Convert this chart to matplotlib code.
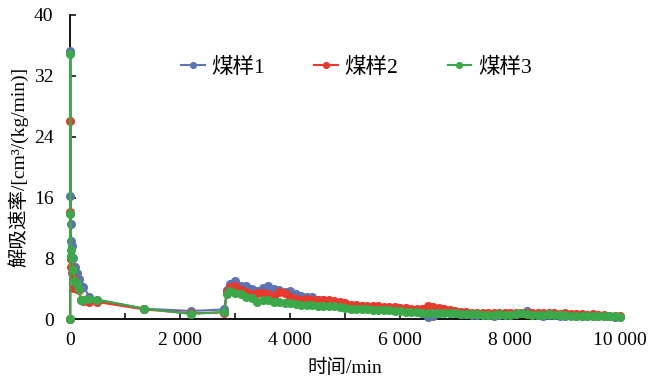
import matplotlib
matplotlib.use("Agg")
import matplotlib.pyplot as plt
from matplotlib.ticker import MultipleLocator, FuncFormatter

# time (min)
time = [0, 2, 5, 10, 20, 40, 60, 90, 120, 160, 200, 240, 350, 480, 1350, 2200, 2800, 2850,
        2900, 3000, 3100, 3200, 3300, 3400, 3500, 3600, 3700, 3800, 3900, 4000,
        4100, 4200, 4300, 4400, 4500, 4600, 4700, 4800, 4900, 5000,
        5100, 5200, 5300, 5400, 5500, 5600, 5700, 5800, 5900, 6000,
        6100, 6200, 6300, 6400, 6500, 6600, 6700, 6800, 6900, 7000,
        7100, 7200, 7300, 7400, 7500, 7600, 7700, 7800, 7900, 8000,
        8100, 8200, 8300, 8400, 8500, 8600, 8700, 8800, 8900, 9000,
        9100, 9200, 9300, 9400, 9500, 9600, 9700, 9800, 9900, 10000]

# desorption rate, cm3/(kg/min)
rate_1 = [0, 35.2, 16.2, 12.5, 10.3, 9.6, 8.0, 6.9, 6.1, 5.3, 4.4, 4.3, 3.0, 2.6, 1.4, 1.1, 1.3, 3.9,
          4.6, 5.0, 4.4, 4.4, 4.0, 3.7, 4.1, 4.4, 4.0, 3.9, 3.6, 3.7,
          3.3, 3.1, 3.0, 2.9, 2.6, 2.5, 2.4, 2.3, 2.2, 2.0,
          1.8, 1.7, 1.7, 1.6, 1.5, 1.5, 1.4, 1.4, 1.3, 1.3,
          1.2, 1.1, 1.0, 0.8, 0.3, 0.4, 0.9, 1.0, 0.9, 0.8,
          0.7, 0.7, 0.6, 0.6, 0.6, 0.6, 0.5, 0.6, 0.7, 0.8,
          0.7, 0.9, 1.1, 0.7, 0.6, 0.5, 0.6, 0.7, 0.5, 0.5,
          0.6, 0.5, 0.4, 0.5, 0.5, 0.4, 0.4, 0.4, 0.3, 0.3]
rate_2 = [0, 26.1, 14.1, 7.9, 6.9, 6.1, 4.1, 5.2, 4.0, 3.8, 2.5, 2.4, 2.3, 2.3, 1.3, 0.8, 0.9, 3.6,
          4.2, 4.4, 3.8, 3.6, 3.3, 3.4, 3.5, 3.3, 3.1, 3.6, 3.4, 3.0,
          2.7, 2.6, 2.7, 2.6, 2.5, 2.6, 2.5, 2.4, 2.3, 2.1,
          1.9, 1.9, 1.8, 1.8, 1.7, 1.7, 1.6, 1.6, 1.6, 1.5,
          1.5, 1.4, 1.3, 1.3, 1.8, 1.6, 1.5, 1.4, 1.2, 1.1,
          1.0, 1.0, 0.9, 0.9, 0.8, 0.8, 0.8, 0.8, 0.9, 0.9,
          0.8, 0.9, 0.8, 0.8, 0.8, 0.9, 0.8, 0.8, 0.7, 0.8,
          0.7, 0.7, 0.7, 0.6, 0.7, 0.6, 0.6, 0.5, 0.5, 0.4]
rate_3 = [0, 34.9, 13.9, 9.1, 8.3, 8.0, 6.5, 5.0, 4.6, 4.0, 2.6, 2.6, 2.7, 2.6, 1.4, 0.7, 1.0, 3.3,
          3.7, 3.5, 3.3, 3.0, 2.8, 2.3, 2.6, 2.5, 2.3, 2.3, 2.1, 2.2,
          2.0, 1.9, 1.9, 1.9, 1.8, 1.8, 1.7, 1.7, 1.6, 1.5,
          1.4, 1.3, 1.3, 1.3, 1.2, 1.2, 1.2, 1.2, 1.1, 1.1,
          1.0, 1.0, 1.0, 0.9, 0.9, 0.9, 0.8, 0.8, 0.8, 0.8,
          0.7, 0.7, 0.7, 0.7, 0.6, 0.6, 0.6, 0.7, 0.6, 0.6,
          0.7, 0.8, 0.7, 0.6, 0.6, 0.6, 0.7, 0.6, 0.6, 0.6,
          0.5, 0.5, 0.5, 0.5, 0.5, 0.5, 0.4, 0.4, 0.4, 0.3]

labels = ["煤样1", "煤样2", "煤样3"]
colors = ["#5b74b3", "#e8392c", "#3ba84a"]

fonts = ["Liberation Serif", "Noto Sans CJK SC"]
plt.rcParams["font.family"] = fonts
plt.rcParams["font.size"] = 14

fig = plt.figure(figsize=(6.5, 3.82), dpi=100)
ax = fig.add_axes([0.108, 0.164, 0.846, 0.797])

for rate, label, color in zip([rate_1, rate_2, rate_3], labels, colors):
    ax.plot(time, rate, color=color, lw=1.5, marker="o", ms=5.5,
            label=label, clip_on=False, zorder=3)

ax.set_xlim(0, 10000)
ax.set_ylim(0, 40)
ax.xaxis.set_major_locator(MultipleLocator(2000))
ax.xaxis.set_minor_locator(MultipleLocator(1000))
ax.yaxis.set_major_locator(MultipleLocator(8))
ax.xaxis.set_major_formatter(FuncFormatter(lambda v, p: f"{int(v):,}".replace(",", " ")))

for s in ["top", "right"]:
    ax.spines[s].set_visible(False)
for s in ["left", "bottom"]:
    ax.spines[s].set_linewidth(1.3)

ax.tick_params(axis="both", which="both", direction="in", width=1.1, length=4)
ax.tick_params(axis="y", pad=12)
ax.tick_params(axis="x", pad=9)

ax.set_xlabel("时间/min", labelpad=7)
ax.set_ylabel("解吸速率/[cm³/(kg/min)]", labelpad=4)

ax.legend(loc="center", bbox_to_anchor=(0.52, 0.826), ncol=3, frameon=False,
          fontsize=15.5, handlelength=1.1, handletextpad=0.3, columnspacing=2.3,
          markerscale=0.75)

fig.savefig("out.png", dpi=100)
